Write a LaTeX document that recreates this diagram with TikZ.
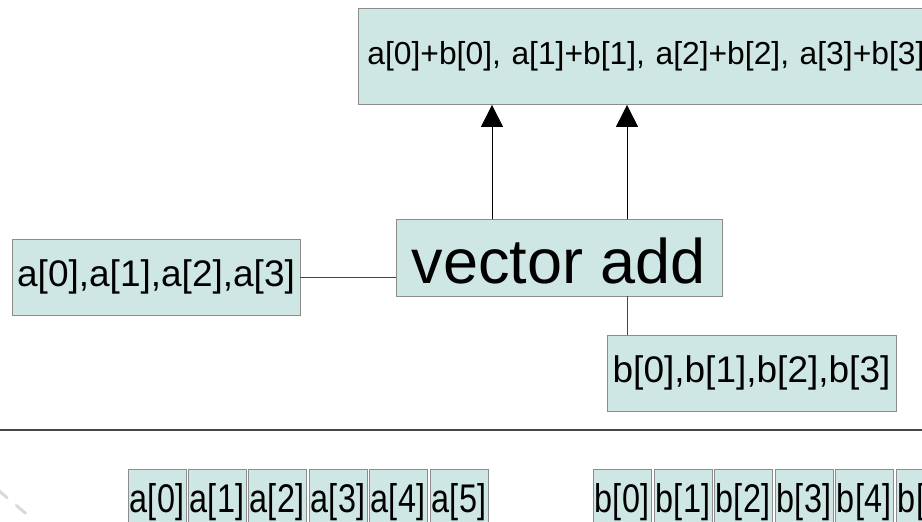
\documentclass[tikz,border=0pt]{standalone}
\usepackage{fontspec}
\setmainfont{Liberation Sans}
\usetikzlibrary{arrows.meta}
\definecolor{boxfill}{RGB}{207,231,228}
\definecolor{boxline}{RGB}{140,140,140}
\definecolor{conn}{RGB}{70,70,70}
\tikzset{
  box/.style={draw=boxline, fill=boxfill, line width=0.9pt, inner sep=0pt, rectangle},
  cell/.style={box, minimum width=58pt, text height=29pt, text depth=8pt, inner ysep=14pt, anchor=north,
    font=\fontsize{40}{44}\selectfont},
  wire/.style={draw=conn, line width=1pt},
  up/.style={wire, -{Triangle[length=22pt,width=22pt]}, color=black},
}
\begin{document}
\begin{tikzpicture}[x=1pt,y=-1pt]
\useasboundingbox (0,0) rectangle (922,522);
\clip (0,0) rectangle (922,522);
% top result box
\node[box, anchor=north west, minimum height=96pt, text width=582pt, inner xsep=9pt, align=left,
  font=\fontsize{31.8}{36}\selectfont] (sum) at (358,8) {a[0]+b[0], a[1]+b[1], a[2]+b[2], a[3]+b[3]};
% vector add
\node[box, minimum width=326pt, minimum height=77pt, font=\fontsize{63}{70}\selectfont, text height=51pt, text depth=0pt] (vadd) at (559,257.5) {vector add};
% a input
\node[box, minimum width=288pt, minimum height=76pt, font=\fontsize{37}{42}\selectfont] (ain) at (156,277) {a[0],a[1],a[2],a[3]};
% b input
\node[box, minimum width=289pt, minimum height=76pt, font=\fontsize{37}{42}\selectfont] (bin) at (751.5,373) {b[0],b[1],b[2],b[3]};
% connectors
\draw[wire] (ain.east) -- (ain.east -| vadd.west);
\draw[wire] (bin.north -| 627,0) -- (vadd.south -| 627,0);
\coordinate (u1) at (492,219);
\coordinate (u2) at (627,219);
\draw[up] (u1) -- (u1 |- sum.south);
\draw[up] (u2) -- (u2 |- sum.south);
% separator
\coordinate (sl) at (0,430);
\coordinate (sr) at (922,430);
\draw[draw=conn, line width=1.2pt] (sl) -- (sr);
% faint dashed stroke bottom-left
\draw[gray!30, line width=3pt, dash pattern=on 12pt off 12pt, line cap=round] (-2,490) -- (30,517);
% a cells
\foreach \i/\x in {0/157,1/217,2/277,3/338,4/398,5/459}{
  \node[cell] (a\i) at (\x,469) {\scalebox{0.81}[1]{a[\i]}};
}
% b cells
\foreach \i/\x in {0/622,1/683,2/743,3/804,4/864,5/925}{
  \node[cell] (b\i) at (\x,469) {\scalebox{0.81}[1]{b[\i]}};
}
\end{tikzpicture}
\end{document}
